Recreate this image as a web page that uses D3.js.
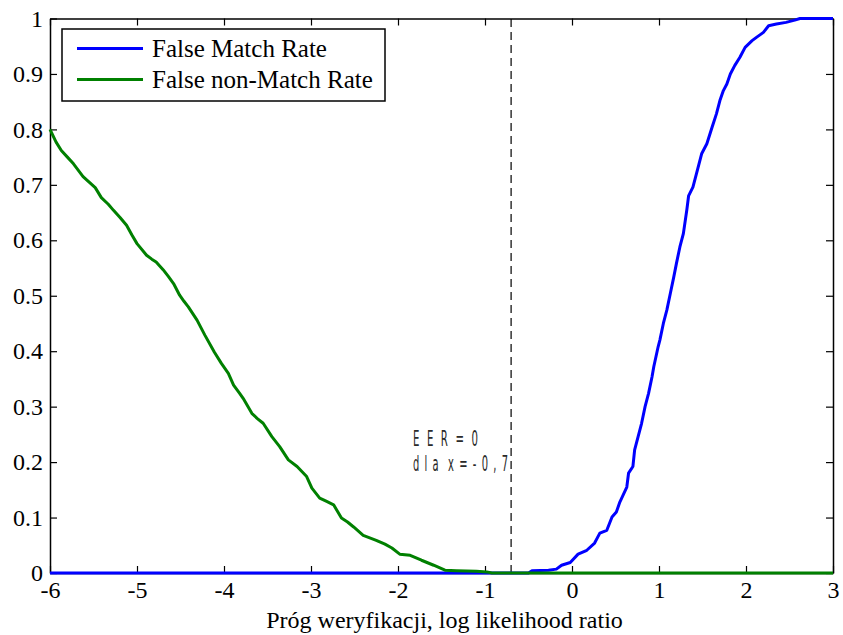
<!DOCTYPE html>
<html>
<head>
<meta charset="utf-8">
<script src="https://cdn.jsdelivr.net/npm/d3@7"></script>
<style>
  html, body { margin: 0; padding: 0; background: #fff; }
  svg { display: block; }
  text { font-family: "Liberation Serif", "Times New Roman", serif; }
</style>
</head>
<body>
<svg id="chart" width="843" height="635"></svg>
<script>
// Threshold sweep (log likelihood ratio) and error rates
const fmrX = [-6, -0.50, -0.46, -0.27, -0.18, -0.12, -0.02, 0.07, 0.17, 0.26, 0.32, 0.40, 0.46, 0.51, 0.55,
  0.63, 0.65, 0.70, 0.72, 0.76, 0.80, 0.84, 0.88, 0.92, 0.94, 0.99, 1.01, 1.05, 1.09, 1.13, 1.17, 1.20,
  1.24, 1.28, 1.32, 1.34, 1.39, 1.43, 1.49, 1.55, 1.61, 1.66, 1.70, 1.74, 1.78, 1.82, 1.87, 1.93, 1.99,
  2.07, 2.12, 2.20, 2.26, 2.35, 2.46, 2.56, 2.62, 3.00];
const fmrY = [0, 0, 0.004, 0.005, 0.007, 0.014, 0.019, 0.034, 0.041, 0.054, 0.072, 0.077, 0.101, 0.110, 0.128,
  0.155, 0.180, 0.192, 0.222, 0.246, 0.270, 0.300, 0.324, 0.354, 0.372, 0.408, 0.420, 0.450, 0.474, 0.504, 0.534, 0.558,
  0.588, 0.612, 0.655, 0.680, 0.696, 0.720, 0.756, 0.774, 0.804, 0.828, 0.852, 0.870, 0.882, 0.900, 0.915, 0.930, 0.948,
  0.960, 0.966, 0.975, 0.987, 0.990, 0.993, 0.997, 1.000, 1.000];

const fnmrX = [-6.00, -5.93, -5.87, -5.80, -5.73, -5.62, -5.55, -5.48, -5.41, -5.33, -5.27, -5.195, -5.12, -5.06,
  -5.00, -4.89, -4.83, -4.78, -4.70, -4.64, -4.58, -4.51, -4.46, -4.41, -4.31, -4.22, -4.11, -4.03, -3.95,
  -3.89, -3.82, -3.78, -3.68, -3.62, -3.55, -3.45, -3.36, -3.26, -3.16, -3.05, -2.99, -2.90, -2.82, -2.74,
  -2.65, -2.58, -2.51, -2.40, -2.25, -2.15, -2.07, -1.98, -1.86, -1.73, -1.59, -1.46, -1.33, -1.10, -0.98,
  -0.92, 3.00];
const fnmrY = [0.800, 0.777, 0.762, 0.750, 0.738, 0.715, 0.705, 0.695, 0.677, 0.665, 0.654, 0.641, 0.627, 0.610,
  0.594, 0.573, 0.566, 0.561, 0.547, 0.535, 0.522, 0.501, 0.490, 0.480, 0.456, 0.429, 0.398, 0.378, 0.360,
  0.339, 0.324, 0.315, 0.288, 0.279, 0.270, 0.246, 0.228, 0.204, 0.192, 0.174, 0.153, 0.135, 0.129, 0.123,
  0.099, 0.092, 0.083, 0.068, 0.059, 0.052, 0.045, 0.034, 0.032, 0.023, 0.014, 0.005, 0.004, 0.003, 0.002,
  0.000, 0.000];

const xTicks = [-6, -5, -4, -3, -2, -1, 0, 1, 2, 3];
const yTicks = [0, 0.1, 0.2, 0.3, 0.4, 0.5, 0.6, 0.7, 0.8, 0.9, 1];
const seriesNames = ["False Match Rate", "False non-Match Rate"];
const seriesColors = ["#0000ff", "#008000"];
const eerThreshold = -0.7;
const eerLines = ["E E R = 0", "d l a  x = - 0 , 7"];
const xLabel = "Próg weryfikacji, log likelihood ratio";

const svg = d3.select("#chart");
const plotL = 50, plotR = 833, plotT = 18.5, plotB = 573;
const serif = '"Liberation Serif", "Times New Roman", serif';

const x = d3.scaleLinear().domain([-6, 3]).range([plotL, plotR]);
const y = d3.scaleLinear().domain([0, 1]).range([plotB, plotT]);

const fmt = d => String(d);
const tickLen = 7;

function styleAxis(g) {
  g.attr("font-family", serif).attr("font-size", 24);
  g.selectAll("path.domain").attr("stroke", "#000").attr("stroke-width", 1.5);
  g.selectAll(".tick line").attr("stroke", "#000").attr("stroke-width", 1.2);
  g.selectAll(".tick text").attr("fill", "#000")
    .style("font-family", serif).style("font-size", "24px");
}

// Box axes with inward ticks on all four sides
svg.append("g").attr("transform", `translate(0,${plotB})`)
  .call(d3.axisBottom(x).tickValues(xTicks).tickFormat(fmt).tickSize(-tickLen).tickSizeOuter(0).tickPadding(8))
  .call(styleAxis);
svg.append("g").attr("transform", `translate(0,${plotT})`)
  .call(d3.axisTop(x).tickValues(xTicks).tickFormat("").tickSize(-tickLen).tickSizeOuter(0))
  .call(styleAxis);
svg.append("g").attr("transform", `translate(${plotL},0)`)
  .call(d3.axisLeft(y).tickValues(yTicks).tickFormat(fmt).tickSize(-tickLen).tickSizeOuter(0).tickPadding(7))
  .call(styleAxis);
svg.append("g").attr("transform", `translate(${plotR},0)`)
  .call(d3.axisRight(y).tickValues(yTicks).tickFormat("").tickSize(-tickLen).tickSizeOuter(0))
  .call(styleAxis);

// EER threshold marker
svg.append("line")
  .attr("x1", x(eerThreshold)).attr("x2", x(eerThreshold))
  .attr("y1", y(0)).attr("y2", y(1))
  .attr("stroke", "#000").attr("stroke-width", 1.2)
  .attr("stroke-dasharray", "8,5");

// Error-rate curves
const line = d3.line().x(d => x(d[0])).y(d => y(d[1]));
const fmr = fmrX.map((v, i) => [v, fmrY[i]]);
const fnmr = fnmrX.map((v, i) => [v, fnmrY[i]]);
[fmr, fnmr].forEach((data, i) => {
  svg.append("path").datum(data)
    .attr("d", line)
    .attr("fill", "none")
    .attr("stroke", seriesColors[i])
    .attr("stroke-width", 3)
    .attr("stroke-linejoin", "round");
});

// EER annotation: tall, condensed, widely spaced lettering
const annotFont = '"Liberation Sans Narrow", "DejaVu Sans Condensed", "Liberation Sans", sans-serif';
const annot = svg.append("g").attr("fill", "#2a2a2a");
[[eerLines[0], 446, 67, "4px"], [eerLines[1], 471, 96, "2px"]].forEach(([txt, by, len, ls]) => {
  annot.append("text").attr("x", 413).attr("y", by)
    .attr("xml:space", "preserve").style("white-space", "pre")
    .attr("textLength", len).attr("lengthAdjust", "spacingAndGlyphs")
    .style("font-family", annotFont).style("font-size", "21px")
    .style("letter-spacing", ls)
    .text(txt);
});

// Legend
const legend = svg.append("g");
legend.append("rect")
  .attr("x", 62).attr("y", 29).attr("width", 323).attr("height", 72)
  .attr("fill", "#fff").attr("stroke", "#000").attr("stroke-width", 1.5);
seriesNames.forEach((name, i) => {
  const ly = 48.5 + i * 31;
  legend.append("line")
    .attr("x1", 77).attr("x2", 143).attr("y1", ly).attr("y2", ly)
    .attr("stroke", seriesColors[i]).attr("stroke-width", 3);
  legend.append("text")
    .attr("x", 152).attr("y", ly).attr("dy", "0.34em")
    .style("font-family", serif).style("font-size", "25px").attr("fill", "#000")
    .text(name);
});

// X axis title
svg.append("text")
  .attr("x", (plotL + plotR) / 2 + 3).attr("y", 628)
  .attr("text-anchor", "middle")
  .style("font-family", serif).style("font-size", "24px").attr("fill", "#000")
  .text(xLabel);
</script>
</body>
</html>
